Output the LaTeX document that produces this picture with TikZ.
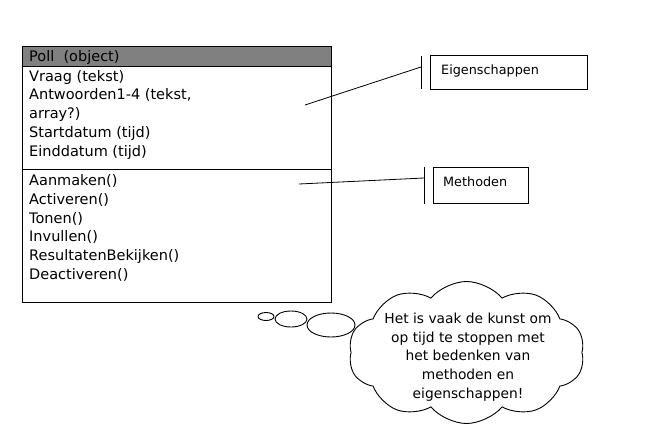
\documentclass[tikz,border=0pt]{standalone}
\usepackage{fontspec}
\setmainfont{DejaVu Sans}
\usetikzlibrary{shapes.symbols,shapes.geometric}
\tikzset{
  boxpart/.style={draw=black, line width=0.9pt, anchor=north west, inner sep=0pt},
  boxtext/.style={anchor=north west, align=left, inner sep=0pt, font=\fontsize{14.5}{18.7}\selectfont},
  labelbox/.style={draw=black, line width=0.9pt, anchor=north west, inner sep=0pt},
  labeltext/.style={anchor=west, inner sep=0pt, font=\fontsize{12.8}{15}\selectfont},
  leader/.style={draw=black, line width=0.8pt},
  bubble/.style={draw=black, line width=0.9pt, fill=white, ellipse},
}
\begin{document}
\begin{tikzpicture}[x=1pt,y=-1pt]
\useasboundingbox (0,0) rectangle (657,442);
% class box
\node[boxpart, fill={rgb,255:red,128;green,128;blue,128}, minimum width=309pt, minimum height=20pt] (hdr) at (22,46) {};
\node[boxpart, minimum width=309pt, minimum height=103pt] (attrs) at (22,66) {};
\node[boxpart, minimum width=309pt, minimum height=133pt] (meths) at (22,169) {};
\node[anchor=west, inner sep=0pt, font=\fontsize{14.5}{16}\selectfont] (hdrtxt) at (29,57.5) {Poll~~(object)};
\node[boxtext] (attrtxt) at (29,70) {Vraag (tekst)\\Antwoorden1-4 (tekst,\\array?)\\Startdatum (tijd)\\Einddatum (tijd)};
\node[boxtext] (methtxt) at (29,174.5) {Aanmaken()\\Activeren()\\Tonen()\\Invullen()\\ResultatenBekijken()\\Deactiveren()};
% labels
\node[labelbox, minimum width=157pt, minimum height=34pt] (eig) at (430,55) {};
\node[labeltext] (eigtxt) at (441,71) {Eigenschappen};
\node[labelbox, minimum width=95pt, minimum height=36pt] (met) at (433,167) {};
\node[labeltext] (mettxt) at (443,182) {Methoden};
% brackets
\coordinate (eigtop) at (421,56);
\coordinate (eigbot) at (421,89);
\coordinate (mettop) at (424,167);
\coordinate (metbot) at (424,204);
\draw[leader] (eigtop) -- (eigbot);
\draw[leader] (mettop) -- (metbot);
\coordinate (eigend) at (305,105);
\coordinate (eigjoin) at (421,67);
\coordinate (metend) at (299,184);
\coordinate (metjoin) at (424,178);
\draw[leader] (eigend) -- (eigjoin);
\draw[leader] (metend) -- (metjoin);
% thought bubble
\node[bubble, minimum width=16pt, minimum height=8pt, inner sep=0pt] (b1) at (266,316.5) {};
\node[bubble, minimum width=32pt, minimum height=16pt, inner sep=0pt] (b2) at (291,319) {};
\node[bubble, minimum width=48pt, minimum height=24pt, inner sep=0pt] (b3) at (331,325) {};
\node[cloud, cloud puffs=10, cloud puff arc=100, cloud ignores aspect, draw=black, line width=0.9pt, fill=white, minimum width=236pt, minimum height=142pt, inner sep=0pt] (cloud) at (466.5,352.5) {};
\node[align=center, inner sep=0pt, font=\fontsize{13.8}{18.7}\selectfont] (cloudtxt) at (468,357) {Het is vaak de kunst om\\op tijd te stoppen met\\het bedenken van\\methoden en\\eigenschappen!};
\end{tikzpicture}
\end{document}
